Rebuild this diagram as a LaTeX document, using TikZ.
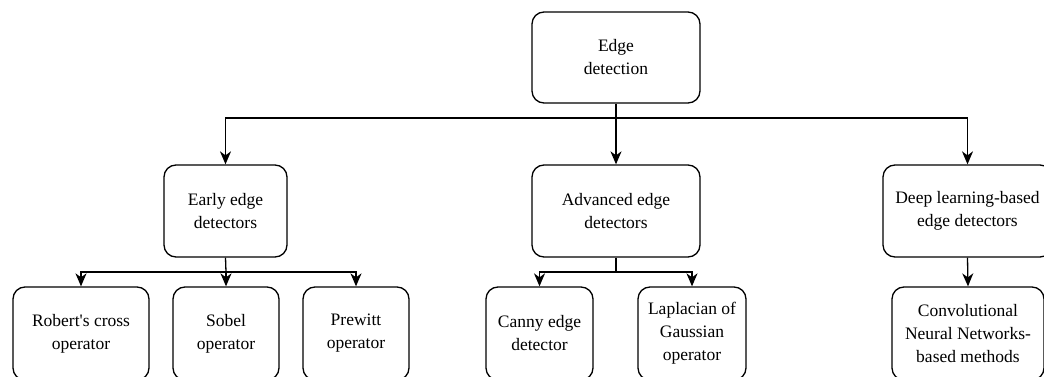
\documentclass[tikz,border=0pt]{standalone}
\usepackage{fontspec}
\setmainfont{Liberation Serif}
\newfontface\plainquote{Liberation Serif}[Ligatures=TeXOff]
\usetikzlibrary{arrows.meta}
\begin{document}
\begin{tikzpicture}[x=1pt,y=-1pt,
  box/.style={draw, line width=1.3pt, rounded corners=12pt, align=center,
    inner sep=0pt, font=\fontsize{17.5}{23}\selectfont},
  link/.style={line width=1.3pt},
  arr/.style={line width=1.3pt, -{Stealth[length=13pt,width=11pt,inset=4pt]}}]
\useasboundingbox (0,0) rectangle (1044,377);
\clip (0,0) rectangle (1044,377);
\node[box, minimum width=168pt, minimum height=91pt] (top) at (616,57.5) {Edge\\detection};
\node[box, minimum width=123pt, minimum height=92pt] (early) at (225.5,211) {Early edge\\detectors};
\node[box, minimum width=168pt, minimum height=92pt] (adv) at (616,211) {Advanced edge\\detectors};
\node[box, minimum width=169pt, minimum height=92pt] (deep) at (967.5,211) {Deep learning-based\\edge detectors};
\node[box, minimum width=136pt, minimum height=93pt] (rob) at (81,333.5) {Robert{\plainquote\fontsize{17.5}{23}\selectfont '}s cross\\operator};
\node[box, minimum width=106pt, minimum height=93pt] (sob) at (226,333.5) {Sobel\\operator};
\node[box, minimum width=106pt, minimum height=93pt] (pre) at (356,333.5) {Prewitt\\operator};
\node[box, minimum width=107pt, minimum height=93pt] (can) at (539.5,333.5) {Canny edge\\detector};
\node[box, minimum width=108pt, minimum height=93pt] (lap) at (692,333.5) {Laplacian of\\Gaussian\\operator};
\node[box, minimum width=152pt, minimum height=93pt] (cnn) at (968,333.5) {Convolutional\\Neural Networks-\\based methods};
\coordinate (j0) at (616,118);
\coordinate (j1) at (226,272);
\coordinate (j2) at (616,272);
\draw[link] (top.south) -- (j0);
\draw[arr] (j0) -| (early.north);
\draw[arr] (j0) -- (adv.north);
\draw[arr] (j0) -| (deep.north);
\draw[link] (early.south) -- (j1);
\draw[arr] (j1) -| (rob.north);
\draw[arr] (j1) -- (sob.north);
\draw[arr] (j1) -| (pre.north);
\draw[link] (adv.south) -- (j2);
\draw[arr] (j2) -| (can.north);
\draw[arr] (j2) -| (lap.north);
\draw[arr] (deep.south) -- (cnn.north);
\end{tikzpicture}
\end{document}
